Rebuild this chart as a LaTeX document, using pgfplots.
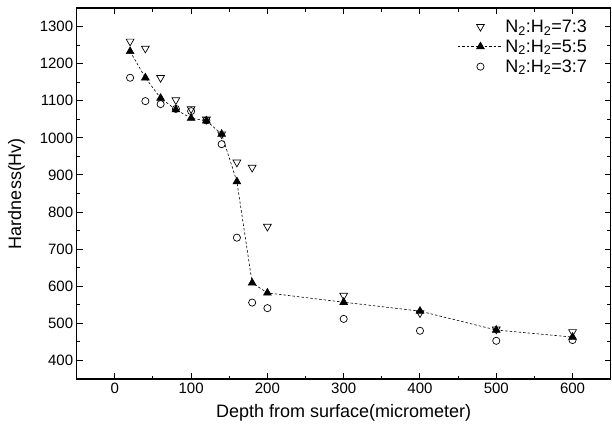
\documentclass[border=0pt]{standalone}
\usepackage{fontspec}
\setmainfont{Liberation Sans}
\usepackage{pgfplots}
\pgfplotsset{compat=1.18}
\begin{document}
\begin{tikzpicture}
\begin{axis}[
  scale only axis,
  width=534pt, height=371pt,
  xmin=-50, xmax=650, ymin=350, ymax=1350,
  xtick={0,100,...,600}, ytick={400,500,...,1300},
  minor tick num=1,
  tick align=inside,
  xtick pos=both, ytick pos=both,
  xticklabel pos=bottom, yticklabel pos=left,
  major tick length=6pt, minor tick length=3.5pt,
  every tick/.style={black, line width=1pt},
  axis line style={line width=1.2pt},
  /pgf/number format/assume math mode=true,
  /pgf/number format/1000 sep={},
  tick label style={font=\fontsize{15}{17}\selectfont},
  label style={font=\fontsize{18}{21}\selectfont},
  xlabel={Depth from surface(micrometer)},
  ylabel={Hardness(Hv)},
  xlabel style={yshift=-4pt},
  ylabel style={yshift=8pt},
  legend style={draw=none, fill=none, at={(0.965,0.98)}, anchor=north east,
    font=\fontsize{18}{21}\selectfont, row sep=2pt},
  legend cell align=left,
]
\addplot[only marks, mark=triangle, mark size=4.5pt, mark options={rotate=180, black, line width=0.7pt},
  legend image code/.code={\draw[draw=none] (0pt,0pt) -- (45pt,0pt); \draw plot coordinates {(22.5pt,0pt)};}]
coordinates {(20,1260)(40,1241)(60,1162)(80,1102)(100,1078)(120,1050)(140,1010)(160,934)(180,920)(200,761)(300,575)(400,528)(500,484)(600,477)};
\addlegendentry{N\textsubscript{2}:H\textsubscript{2}=7:3}
\addplot[black, line width=0.6pt, dash pattern=on 2.5pt off 2pt, mark=triangle*, mark size=4.5pt, mark options={solid, black},
  legend image code/.code={\draw[mark repeat=2, mark phase=2] plot coordinates {(0pt,0pt)(22.5pt,0pt)(45pt,0pt)};}]
coordinates {(20,1233)(40,1162)(60,1107)(80,1076)(100,1053)(120,1046)(140,1010)(160,882)(180,609)(200,582)(300,557)(400,533)(500,482)(600,463)};
\addlegendentry{N\textsubscript{2}:H\textsubscript{2}=5:5}
\addplot[only marks, mark=o, mark size=3.6pt, mark options={black, line width=0.7pt},
  legend image code/.code={\draw[draw=none] (0pt,0pt) -- (45pt,0pt); \draw plot coordinates {(22.5pt,0pt)};}]
coordinates {(20,1162)(40,1099)(60,1091)(80,1078)(100,1072)(120,1047)(140,983)(160,731)(180,556)(200,541)(300,512)(400,480)(500,453)(600,455)};
\addlegendentry{N\textsubscript{2}:H\textsubscript{2}=3:7}
\end{axis}
\pgfresetboundingbox
\path ([shift={(-76.7pt,-53pt)}]current axis.south west) rectangle ([shift={(1.3pt,8pt)}]current axis.north east);
\end{tikzpicture}
\end{document}
